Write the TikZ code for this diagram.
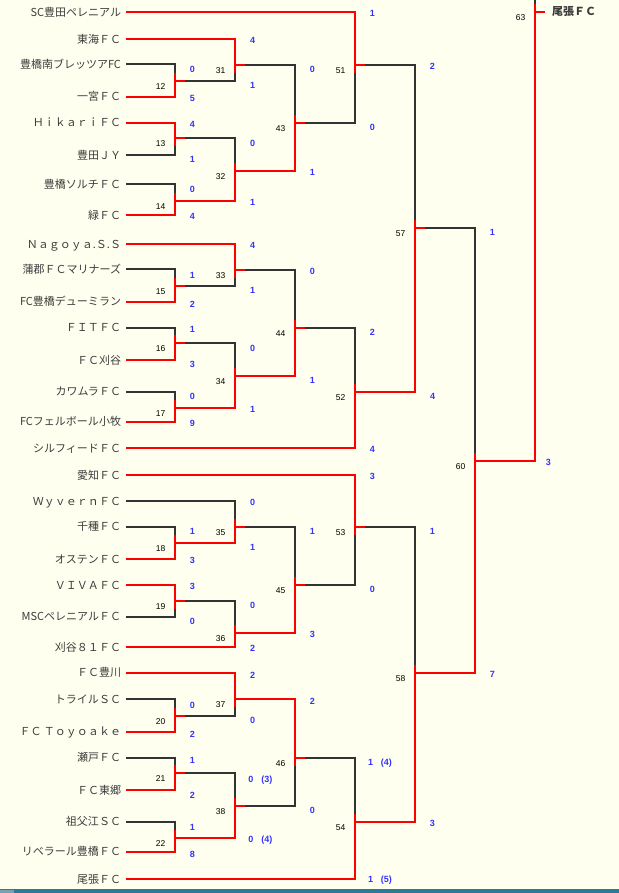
\documentclass[tikz,border=0pt]{standalone}
\usepackage{fontspec}
\setmainfont{Noto Sans CJK JP}
\newfontfamily\numfont{Liberation Sans}
\usetikzlibrary{positioning}
\definecolor{paper}{RGB}{255,255,240}
\definecolor{ink}{RGB}{60,60,60}
\definecolor{dark}{RGB}{51,51,51}
\definecolor{scorecol}{RGB}{51,51,255}
\definecolor{bar}{RGB}{44,122,150}
\definecolor{barleft}{RGB}{125,160,175}

\begin{document}
\begin{tikzpicture}[x=1bp, y=-1bp,
                    wire/.style={line width=2bp},
                    lost/.style={wire, draw=dark},
                    won/.style={wire, draw=red},
                    hv/.style={to path={-| (\tikztotarget)}},
                    hvup/.style={to path={-| (\tikztotarget) -- ++(0,-8)}},
                    hvdown/.style={to path={-| (\tikztotarget) -- ++(0,8)}},
                    team/.style={anchor=east, inner xsep=5bp, inner ysep=0pt, outer sep=0pt, text height=9.7bp, text depth=1.3bp, text=ink, font=\fontsize{11bp}{13bp}\selectfont},
                    champ/.style={team, inner xsep=0pt, font=\fontsize{11bp}{13bp}\selectfont\bfseries},
                    score/.style={inner sep=0pt, text height=6.5bp, text depth=0pt, text=scorecol, font=\numfont\fontsize{9bp}{11bp}\selectfont\bfseries},
                    num/.style={inner sep=0pt, text height=6.1bp, text depth=0pt, xshift=-14.5bp, yshift=-5.5bp, font=\numfont\fontsize{8.5bp}{10bp}\selectfont}]

  \useasboundingbox (0,0) rectangle (619,893);
  \fill[paper] (0,0) rectangle (619,893);
  \fill[bar] (0,889) rectangle (619,893);
  \fill[barleft] (0,889.5) rectangle (14,893);

  \node[team] (t0)  at (126,12.3)  {SC豊田ペレニアル};
  \node[team] (t1)  at (126,39)    {東海ＦＣ};
  \node[team] (t2)  at (126,64.3)  {豊橋南ブレッツアFC};
  \node[team] (t3)  at (126,96.7)  {一宮ＦＣ};
  \node[team] (t4)  at (126,122.7) {ＨｉｋａｒｉＦＣ};
  \node[team] (t5)  at (126,155)   {豊田ＪＹ};
  \node[team] (t6)  at (126,184.3) {豊橋ソルチＦＣ};
  \node[team] (t7)  at (126,215)   {緑ＦＣ};
  \node[team] (t8)  at (126,244)   {Ｎａｇｏｙａ.Ｓ.Ｓ};
  \node[team] (t9)  at (126,269.3) {蒲郡ＦＣマリナーズ};
  \node[team] (t10) at (126,301.7) {FC豊橋デューミラン};
  \node[team] (t11) at (126,327.7) {ＦＩＴＦＣ};
  \node[team] (t12) at (126,360)   {ＦＣ刈谷};
  \node[team] (t13) at (126,391.7) {カワムラＦＣ};
  \node[team] (t14) at (126,421.7) {FCフェルボール小牧};
  \node[team] (t15) at (126,448.3) {シルフィードＦＣ};
  \node[team] (t16) at (126,475)   {愛知ＦＣ};
  \node[team] (t17) at (126,501)   {ＷｙｖｅｒｎＦＣ};
  \node[team] (t18) at (126,526.7) {千種ＦＣ};
  \node[team] (t19) at (126,559)   {オステンＦＣ};
  \node[team] (t20) at (126,585)   {ＶＩＶＡＦＣ};
  \node[team] (t21) at (126,616.7) {MSCペレニアルＦＣ};
  \node[team] (t22) at (126,647.3) {刈谷８１ＦＣ};
  \node[team] (t23) at (126,672.7) {ＦＣ豊川};
  \node[team] (t24) at (126,699.3) {トライルＳＣ};
  \node[team] (t25) at (126,731.7) {ＦＣ Ｔｏｙｏａｋｅ};
  \node[team] (t26) at (126,757.7) {瀬戸ＦＣ};
  \node[team] (t27) at (126,790)   {ＦＣ東郷};
  \node[team] (t28) at (126,821.7) {祖父江ＳＣ};
  \node[team] (t29) at (126,851.7) {リベラール豊橋ＦＣ};
  \node[team] (t30) at (126,879)   {尾張ＦＣ};

  \coordinate (m12) at (175,80.7);
  \coordinate (m13) at (175,138.3);
  \coordinate (m14) at (175,200.7);
  \coordinate (m15) at (175,285.7);
  \coordinate (m16) at (175,343.3);
  \coordinate (m17) at (175,407.7);
  \coordinate (m18) at (175,542.7);
  \coordinate (m19) at (175,600.7);
  \coordinate (m20) at (175,715.7);
  \coordinate (m21) at (175,773.3);
  \coordinate (m22) at (175,837.7);
  \coordinate (m31) at (235,65);
  \coordinate (m32) at (235,170.7);
  \coordinate (m33) at (235,270);
  \coordinate (m34) at (235,375.7);
  \coordinate (m35) at (235,526.7);
  \coordinate (m36) at (235,632.7);
  \coordinate (m37) at (235,699.3);
  \coordinate (m38) at (235,805.7);
  \coordinate (m43) at (295,122.7);
  \coordinate (m44) at (295,327.7);
  \coordinate (m45) at (295,585);
  \coordinate (m46) at (295,757.7);
  \coordinate (m51) at (355,65);
  \coordinate (m52) at (355,391.7);
  \coordinate (m53) at (355,526.7);
  \coordinate (m54) at (355,821.7);
  \coordinate (m57) at (415,227.7);
  \coordinate (m58) at (415,672.7);
  \coordinate (m60) at (475,460.7);
  \coordinate (m63) at (535,11.7);
  \coordinate (top) at (535,0);

  \path[lost] (t2.east) edge[hv] (m12)
              (t5.east) edge[hv] (m13)
              (t6.east) edge[hv] (m14)
              (t9.east) edge[hv] (m15)
              (t11.east) edge[hv] (m16)
              (t13.east) edge[hv] (m17)
              (t18.east) edge[hv] (m18)
              (t21.east) edge[hv] (m19)
              (t24.east) edge[hv] (m20)
              (t26.east) edge[hv] (m21)
              (t28.east) edge[hv] (m22)
              (m12) edge[hv] (m31)
              (m13) edge[hv] (m32)
              (m15) edge[hv] (m33)
              (m16) edge[hv] (m34)
              (t17.east) edge[hv] (m35)
              (m19) edge[hv] (m36)
              (m20) edge[hv] (m37)
              (m21) edge[hv] (m38)
              (m31) edge[hv] (m43)
              (m33) edge[hv] (m44)
              (m35) edge[hv] (m45)
              (m38) edge[hv] (m46)
              (m43) edge[hv] (m51)
              (m44) edge[hv] (m52)
              (m45) edge[hv] (m53)
              (m46) edge[hv] (m54)
              (m51) edge[hv] (m57)
              (m53) edge[hv] (m58)
              (m57) edge[hv] (m60)
              (top) edge (m63);

  \path[won] (t3.east) edge[hvup] (m12)
             (t4.east) edge[hvdown] (m13)
             (t7.east) edge[hvup] (m14)
             (t10.east) edge[hvup] (m15)
             (t12.east) edge[hvup] (m16)
             (t14.east) edge[hvup] (m17)
             (t19.east) edge[hvup] (m18)
             (t20.east) edge[hvdown] (m19)
             (t25.east) edge[hvup] (m20)
             (t27.east) edge[hvup] (m21)
             (t29.east) edge[hvup] (m22)
             (t1.east) edge[hvdown] (m31)
             (m14) edge[hvup] (m32)
             (t8.east) edge[hvdown] (m33)
             (m17) edge[hvup] (m34)
             (m18) edge[hvup] (m35)
             (t22.east) edge[hvup] (m36)
             (t23.east) edge[hvdown] (m37)
             (m22) edge[hvup] (m38)
             (m32) edge[hvup] (m43)
             (m34) edge[hvup] (m44)
             (m36) edge[hvup] (m45)
             (m37) edge[hvdown] (m46)
             (t0.east) edge[hvdown] (m51)
             (t15.east) edge[hvup] (m52)
             (t16.east) edge[hvdown] (m53)
             (t30.east) edge[hvup] (m54)
             (m52) edge[hvup] (m57)
             (m54) edge[hvup] (m58)
             (m58) edge[hvup] (m60)
             (m60) edge[hvup] (m63);

  \foreach \m in {12,13,14,15,16,17,18,19,20,21,22,31,32,33,34,35,36,37,38,43,44,45,46,51,52,53,54,57,58,60,63}{
    \draw[won] (m\m) -- ++(10,0);
    \node[num] (n\m) at (m\m) {\m};
  }

  \node[champ, right=17bp of m63] (champ) {尾張ＦＣ};

  \node[score] (s12a) at (192.3,69.3)  {0};
  \node[score] (s12b) at (192.3,98.3)  {5};
  \node[score] (s13a) at (192.3,124.7) {4};
  \node[score] (s13b) at (192.3,159.7) {1};
  \node[score] (s14a) at (192.3,189.7) {0};
  \node[score] (s14b) at (192.3,216.7) {4};
  \node[score] (s15a) at (192.3,275)   {1};
  \node[score] (s15b) at (192.3,304)   {2};
  \node[score] (s16a) at (192.3,329.3) {1};
  \node[score] (s16b) at (192.3,364.7) {3};
  \node[score] (s17a) at (192.3,396.7) {0};
  \node[score] (s17b) at (192.3,423.3) {9};
  \node[score] (s18a) at (192.3,531.7) {1};
  \node[score] (s18b) at (192.3,560.7) {3};
  \node[score] (s19a) at (192.3,586.7) {3};
  \node[score] (s19b) at (192.3,621.7) {0};
  \node[score] (s20a) at (192.3,705)   {0};
  \node[score] (s20b) at (192.3,734)   {2};
  \node[score] (s21a) at (192.3,760)   {1};
  \node[score] (s21b) at (192.3,795)   {2};
  \node[score] (s22a) at (192.3,827)   {1};
  \node[score] (s22b) at (192.3,854)   {8};

  \node[score] (s31a) at (252.7,40.7)  {4};
  \node[score] (s31b) at (252.7,85.7)  {1};
  \node[score] (s32a) at (252.7,143.3) {0};
  \node[score] (s32b) at (252.7,202.3) {1};
  \node[score] (s33a) at (252.7,245.7) {4};
  \node[score] (s33b) at (252.7,290.7) {1};
  \node[score] (s34a) at (252.7,348.3) {0};
  \node[score] (s34b) at (252.7,409)   {1};
  \node[score] (s35a) at (252.7,502.7) {0};
  \node[score] (s35b) at (252.7,547.7) {1};
  \node[score] (s36a) at (252.7,605.3) {0};
  \node[score] (s36b) at (252.7,648.7) {2};
  \node[score] (s37a) at (252.7,675)   {2};
  \node[score] (s37b) at (252.7,720.7) {0};
  \node[score] (s38a) at (260.3,779)   {0\hspace{8bp}(3)};
  \node[score] (s38b) at (260.3,839.3) {0\hspace{8bp}(4)};

  \node[score] (s43a) at (312.3,69.3)  {0};
  \node[score] (s43b) at (312.3,172.3) {1};
  \node[score] (s44a) at (312.3,271.7) {0};
  \node[score] (s44b) at (312.3,380.3) {1};
  \node[score] (s45a) at (312.3,531.7) {1};
  \node[score] (s45b) at (312.3,634.3) {3};
  \node[score] (s46a) at (312.3,701.7) {2};
  \node[score] (s46b) at (312.3,810.7) {0};

  \node[score] (s51a) at (372.3,13.7)  {1};
  \node[score] (s51b) at (372.3,127.3) {0};
  \node[score] (s52a) at (372.3,332.7) {2};
  \node[score] (s52b) at (372.3,449.7) {4};
  \node[score] (s53a) at (372.3,476.3) {3};
  \node[score] (s53b) at (372.3,589.3) {0};
  \node[score] (s54a) at (380,762.7)   {1\hspace{8bp}(4)};
  \node[score] (s54b) at (380,879.3)   {1\hspace{8bp}(5)};

  \node[score] (s57a) at (432.3,66.3)  {2};
  \node[score] (s57b) at (432.5,396.3) {4};
  \node[score] (s58a) at (432.3,531.7) {1};
  \node[score] (s58b) at (432.3,823.3) {3};
  \node[score] (s60a) at (492.3,232.3) {1};
  \node[score] (s60b) at (492.3,674.3) {7};
  \node[score] (s63b) at (548.3,462.3) {3};
\end{tikzpicture}
\end{document}
